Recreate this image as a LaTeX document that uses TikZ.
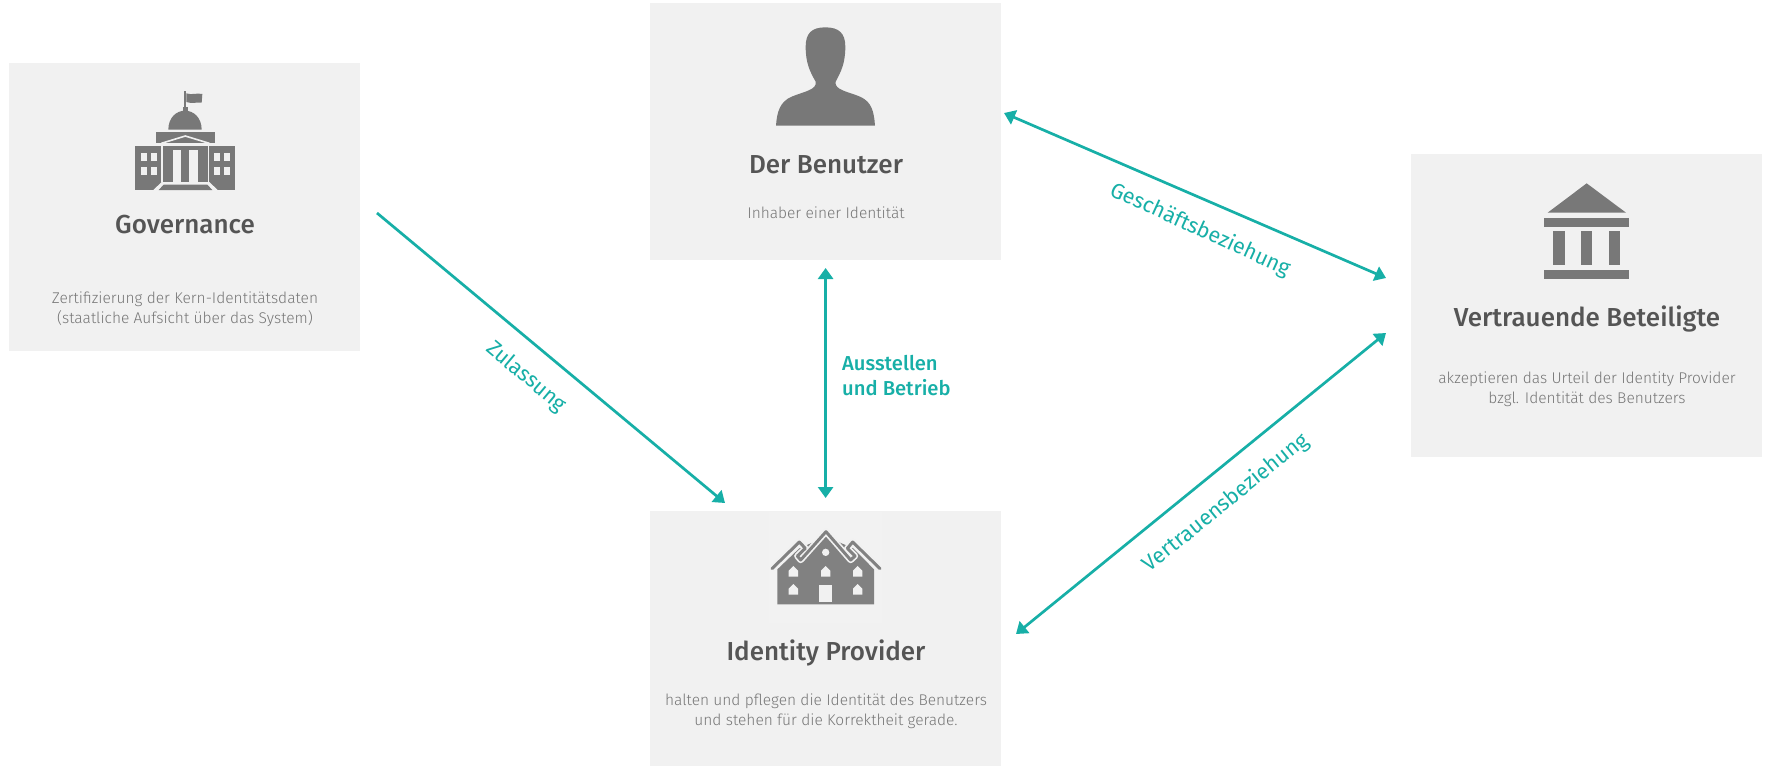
\documentclass[tikz,border=0pt]{standalone}
\usepackage{fontspec}
\setmainfont{Fira Sans}
\newfontfamily\titlef{Fira Sans Medium}
\newfontfamily\lightf{Fira Sans Light}
\usetikzlibrary{arrows.meta}
\definecolor{boxbg}{HTML}{F1F1F1}
\definecolor{hatchbg}{HTML}{F2F2F2}
\definecolor{icong}{HTML}{787878}
\definecolor{houseg}{HTML}{818181}
\definecolor{titleg}{HTML}{555555}
\definecolor{descg}{HTML}{767676}
\definecolor{teal}{HTML}{17AFA7}
\tikzset{
  panel/.style={fill=boxbg,draw=none},
  icon/.style={fill=icong,draw=none},
  cut/.style={fill=boxbg,draw=none},
  title/.style={font=\titlef\fontsize{26}{30}\selectfont,text=titleg,anchor=base,inner sep=0pt},
  desc/.style={font=\lightf\fontsize{15.5}{19.5}\selectfont,text=descg,align=center,inner sep=0pt},
  link/.style={draw=teal,line width=2.7pt},
  twoway/.style={link,{Triangle[length=11pt,width=15pt]}-{Triangle[length=11pt,width=15pt]}},
  oneway/.style={link,-{Triangle[length=11pt,width=15pt]}},
  linklabel/.style={font=\fontsize{21.5}{25}\selectfont,text=teal,inner sep=0pt},
}
\begin{document}
\begin{tikzpicture}[x=1pt,y=-1pt]
\useasboundingbox (0,0) rectangle (1767,766);
% panels
\fill[panel] (9,63) rectangle (360,351);
\fill[panel] (650,3) rectangle (1001,260);
\fill[panel] (650,511) rectangle (1001,766);
\fill[panel] (1411,154) rectangle (1762,457);
\fill[hatchbg] (769,512) rectangle (882,623);
% Governance icon
\begin{scope}[shift={(120,80)},scale=1/3]
  \fill[icon] (193,33) rectangle (199,85);
  \fill[icon] (199,40) .. controls (215,46) and (230,38) .. (247,42) -- (245,68) .. controls (230,66) and (215,72) .. (199,66) -- cycle;
  \fill[icon] (188,80) rectangle (204,95);
  \fill[icon] (145,149) .. controls (145,112) and (170,92) .. (195,92) .. controls (220,92) and (245,112) .. (245,149) -- cycle;
  \fill[icon] (108,157) rectangle (284,190);
  \fill[icon] (45,198) rectangle (345,330);
  \draw[draw=boxbg,line width=1.6pt] (126,198) -- (126,306) (266,198) -- (266,306);
  \draw[draw=boxbg,line width=1.6pt,line join=miter] (124,190) -- (196,168) -- (268,190);
  \fill[cut] (158,211) rectangle (183,306);
  \fill[cut] (208,211) rectangle (233,306);
  \foreach \wx in {62,92,282,312} \foreach \wy in {218,260}
    \fill[cut] (\wx,\wy) rectangle ++(18,26);
  \fill[cut] (125,306) -- (268,306) -- (293,330) -- (100,330) -- cycle;
  \fill[icon] (131,314) -- (262,314) -- (277,330) -- (116,330) -- cycle;
\end{scope}
% Person icon
\begin{scope}[shift={(640,0)},scale=1/3]
  \fill[icon] (408,377) .. controls (411,335) and (420,305) .. (455,290)
    .. controls (490,275) and (532,270) .. (527,245)
    .. controls (510,215) and (497,190) .. (497,140)
    .. controls (497,100) and (515,82) .. (556,82)
    .. controls (597,82) and (616,100) .. (616,140)
    .. controls (616,190) and (603,215) .. (587,245)
    .. controls (582,270) and (625,275) .. (660,290)
    .. controls (695,305) and (702,335) .. (705,377) -- cycle;
\end{scope}
% House icon
\begin{scope}[shift={(760,520)},scale=1/3]
  \fill[houseg] (52,253) -- (52,148) -- (118,85) -- (198,50) -- (280,85) -- (342,148) -- (342,253) -- cycle;
  \draw[draw=boxbg,line width=6.4pt,line join=round]
    (36,146) -- (118,66) -- (136,85) -- (112,108) -- (122,120) -- (198,35) -- (272,120) -- (285,108) -- (262,85) -- (278,66) -- (360,146);
  \draw[draw=houseg,line width=3pt,line join=round,line cap=round]
    (36,146) -- (118,66) -- (136,85) -- (112,108) -- (122,120) -- (198,35) -- (272,120) -- (285,108) -- (262,85) -- (278,66) -- (360,146);
  \foreach \hx/\hy in {100/170,197/170,293/170,100/224,293/224}
    \fill[cut] (\hx-14,\hy) -- (\hx-14,\hy-18) -- (\hx,\hy-32) -- (\hx+14,\hy-18) -- (\hx+14,\hy) -- cycle;
  \fill[cut] (178,194) rectangle (217,245);
  \fill[cut] (197,97) circle (11);
\end{scope}
% Bank icon
\begin{scope}[shift={(1400,140)},scale=1/3]
  \fill[icon] (443,218) -- (560,130) -- (678,218) -- cycle;
  \fill[icon] (432,233) rectangle (688,260);
  \fill[icon] (460,274) rectangle (495,376);
  \fill[icon] (543,274) rectangle (577,376);
  \fill[icon] (626,274) rectangle (660,376);
  \fill[icon] (432,390) rectangle (688,417);
\end{scope}
% texts
\node[title] (govt) at (185,233) {Governance};
\node[desc] (govd) at (185,309) {Zertifizierung der Kern-Identitätsdaten\\(staatliche Aufsicht über das System)};
\node[title] (bent) at (826,173) {Der Benutzer};
\node[desc] (bend) at (826,213) {Inhaber einer Identität};
\node[title] (idpt) at (826,660) {Identity Provider};
\node[desc] (idpd) at (826,711) {halten und pflegen die Identität des Benutzers\\und stehen für die Korrektheit gerade.};
\node[title] (relt) at (1587,326) {Vertrauende Beteiligte};
\node[desc] (reld) at (1587,389) {akzeptieren das Urteil der Identity Provider\\bzgl. Identität des Benutzers};
% connector ends
\coordinate (zs) at (377,213);
\coordinate (ze) at (725,503);
\coordinate (as) at (825.6,268);
\coordinate (ae) at (825.6,498);
\coordinate (gs) at (1004,113);
\coordinate (ge) at (1386,278);
\coordinate (vs) at (1386,333);
\coordinate (ve) at (1016,634);
\draw[oneway] (zs) -- (ze);
\draw[twoway] (as) -- (ae);
\draw[twoway] (gs) -- (ge);
\draw[twoway] (vs) -- (ve);
\node[linklabel,rotate=-40] (zl) at (526,377) {Zulassung};
\node[linklabel,align=left,anchor=west,font=\titlef\fontsize{20.2}{25.5}\selectfont] (al) at (842,375.5) {Ausstellen\\und Betrieb};
\node[linklabel,rotate=-24.5] (gl) at (1200,230) {Geschäftsbeziehung};
\node[linklabel,rotate=39] (vl) at (1226,503) {Vertrauensbeziehung};
\end{tikzpicture}
\end{document}
